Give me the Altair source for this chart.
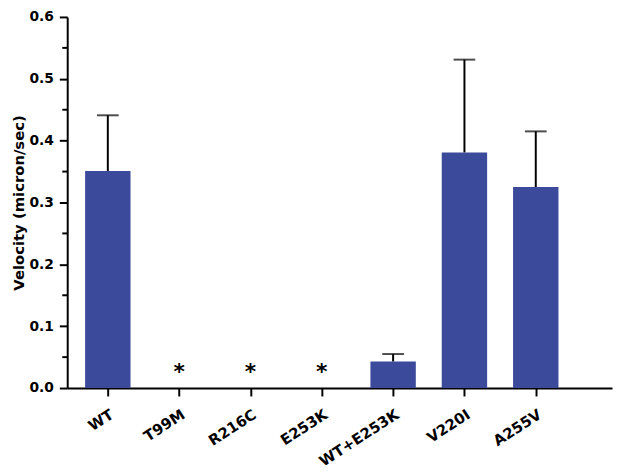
import altair as alt
import pandas as pd

categories = ["WT", "T99M", "R216C", "E253K", "WT+E253K", "V220I", "A255V"]
velocity = [0.351, 0.0, 0.0, 0.0, 0.043, 0.381, 0.325]
err_upper = [0.441, None, None, None, 0.055, 0.531, 0.415]
signif = ["", "*", "*", "*", "", "", ""]
major_ticks = [0.0, 0.1, 0.2, 0.3, 0.4, 0.5, 0.6]
minor_ticks = [0.05, 0.15, 0.25, 0.35, 0.45, 0.55]

BAR = "#3B4A9B"
FONT = "DejaVu Sans"

df = pd.DataFrame({
    "idx": list(range(len(categories))),
    "cat": categories,
    "v": velocity,
    "up": err_upper,
    "sig": signif,
})
minor_df = pd.DataFrame({"m": minor_ticks})

label_expr = "[" + ",".join('"%s"' % c for c in categories) + "][datum.value]"

x_enc = alt.X(
    "idx:Q",
    scale=alt.Scale(domain=[-0.5, 7.0], nice=False, zero=False),
    axis=alt.Axis(
        values=list(range(len(categories))),
        labelExpr=label_expr,
        labelOverlap=False,
        title=None,
        grid=False,
        domainColor="black",
        domainWidth=2,
        tickColor="black",
        tickWidth=2,
        tickSize=8,
        labelAngle=-33,
        labelFont=FONT,
        labelFontWeight="bold",
        labelFontSize=15,
        labelColor="black",
        labelPadding=11,
    ),
)
y_scale = alt.Scale(domain=[0, 0.6], nice=False)
y_enc = alt.Y(
    "v:Q",
    scale=y_scale,
    axis=alt.Axis(
        values=major_ticks,
        format=".1f",
        labelOverlap=False,
        title="Velocity (micron/sec)",
        grid=False,
        domainColor="black",
        domainWidth=2,
        tickColor="black",
        tickWidth=2,
        tickSize=8,
        labelFont=FONT,
        labelFontWeight="bold",
        labelFontSize=14,
        labelColor="black",
        labelPadding=6,
        titleFont=FONT,
        titleFontWeight="bold",
        titleFontSize=15,
        titleColor="black",
        titlePadding=2,
    ),
)

base = alt.Chart(df)

bars = base.mark_bar(color=BAR, width=46).encode(x=x_enc, y=y_enc)

err_df = df.dropna(subset=["up"])
err_rule = alt.Chart(err_df).mark_rule(color="black", strokeWidth=2).encode(
    x="idx:Q", y=alt.Y("v:Q", scale=y_scale), y2="up:Q"
)
err_cap = alt.Chart(err_df).mark_tick(
    color="black", orient="horizontal", size=22, thickness=2
).encode(x="idx:Q", y=alt.Y("up:Q", scale=y_scale))

stars = base.mark_text(
    font=FONT, fontWeight="bold", fontSize=22, color="black",
    baseline="alphabetic", dy=-9,
).encode(x="idx:Q", y=alt.Y("v:Q", scale=y_scale), text="sig:N")

minor = alt.Chart(minor_df).mark_rule(color="black", strokeWidth=2).encode(
    y=alt.Y("m:Q", scale=y_scale), x=alt.value(-5), x2=alt.value(0)
)

chart = alt.layer(bars, err_rule, err_cap, stars, minor).properties(
    width=552,
    height=376,
    autosize=alt.AutoSizeParams(type="none"),
    padding={"left": 60, "top": 6, "right": 2, "bottom": 83},
).configure(background="white").configure_view(strokeWidth=0, stroke="transparent")

chart.save("out.html", embed_options={"renderer": "svg", "actions": False})
